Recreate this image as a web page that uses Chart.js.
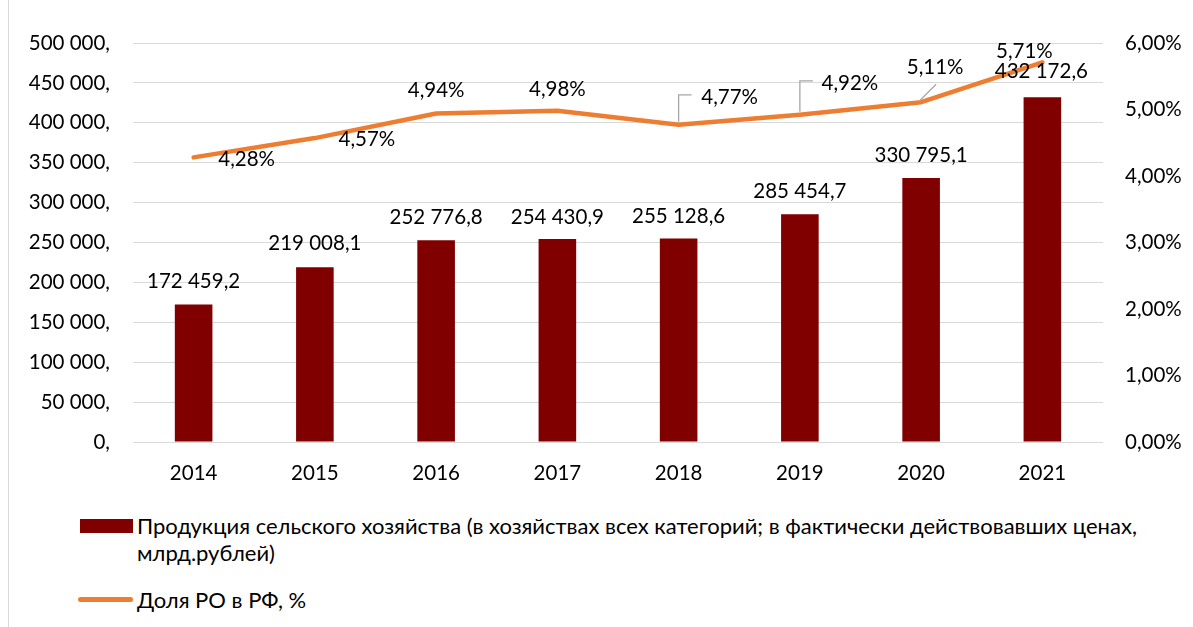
<!DOCTYPE html>
<html>
<head>
<meta charset="utf-8">
<script src="https://cdn.jsdelivr.net/npm/chart.js@4.4.0/dist/chart.umd.min.js"></script>
<style>
    body { margin: 0; background: #fff; width: 1193px; height: 627px; overflow: hidden; position: relative; font-family: Lato, 'Open Sans', sans-serif; }
    #frame { position: absolute; left: 8px; top: 0; width: 1px; height: 627px; background: #d9d9d9; }
    #wrap { position: absolute; left: 0; top: 0; width: 1193px; height: 500px; }
    .lg { position: absolute; font-size: 22px; color: #000; line-height: 27px; }
    .sw-bar { position: absolute; left: 80px; top: 519px; width: 53px; height: 14px; background: #800000; }
    .sw-line { position: absolute; left: 78px; top: 597px; width: 55px; height: 5px; border-radius: 3px; background: #ED7D31; }
</style>
</head>
<body>
<div id="frame"></div>
<div id="wrap"><canvas id="combo"></canvas></div>
<div class="sw-bar"></div>
<div class="lg" id="lgBar" style="left:137px; top:512px; width:1040px;"></div>
<div class="sw-line"></div>
<div class="lg" id="lgLine" style="left:137px; top:586px;"></div>
<script>
// Data
const years = ['2014', '2015', '2016', '2017', '2018', '2019', '2020', '2021'];
const production = [172459.2, 219008.1, 252776.8, 254430.9, 255128.6, 285454.7, 330795.1, 432172.6];
const share = [4.28, 4.57, 4.94, 4.98, 4.77, 4.92, 5.11, 5.71];
const leftTicks = [0, 50000, 100000, 150000, 200000, 250000, 300000, 350000, 400000, 450000, 500000];
const rightTicks = [0, 1, 2, 3, 4, 5, 6];

const barName = 'Продукция сельского хозяйства (в хозяйствах всех категорий; в фактически действовавших ценах, млрд.рублей)';
const lineName = 'Доля РО в РФ, %';

// label placement (px offsets of label centre from the mark)
const barLabelShift = [[0, -23], [0, -24], [0, -23], [0, -22], [0, -22], [0, -23], [0, -23], [-1, -26]];
const shareLabelShift = [[53, 2], [52, 1], [0, -23], [0, -21], [51, -27], [50, -31], [14, -35], [-18, -11]];
const leaders = [null, null, null, null, 'elbow', 'elbow', 'diag', null];

const FONT = 'Lato, "Open Sans", sans-serif';
Chart.defaults.font.family = FONT;
Chart.defaults.font.size = 20.5;
Chart.defaults.color = '#000';

document.getElementById('lgBar').textContent = barName;
document.getElementById('lgLine').textContent = lineName;

const spaced = n => n.toString().replace(/\B(?=(\d{3})+(?!\d))/g, ' ');
const fmtVolume = v => {
    const [i, d] = v.toFixed(1).split('.');
    return spaced(i) + ',' + d;
};
const fmtShare = v => v.toFixed(2).replace('.', ',') + '%';

const valueLabels = {
    id: 'valueLabels',
    afterDatasetsDraw(chart) {
        const ctx = chart.ctx;
        ctx.save();
        ctx.font = '20.5px ' + FONT;
        ctx.fillStyle = '#000';
        ctx.textAlign = 'center';
        ctx.textBaseline = 'middle';

        chart.getDatasetMeta(0).data.forEach((b, i) => {
            ctx.fillText(fmtVolume(production[i]), b.x + barLabelShift[i][0], b.y + barLabelShift[i][1]);
        });

        ctx.strokeStyle = '#a6a6a6';
        ctx.lineWidth = 1.3;
        chart.getDatasetMeta(1).data.forEach((p, i) => {
            const cx = p.x + shareLabelShift[i][0];
            const cy = p.y + shareLabelShift[i][1];
            if (leaders[i] === 'elbow') {
                ctx.beginPath();
                ctx.moveTo(p.x, p.y - 3);
                ctx.lineTo(p.x, cy - 3);
                ctx.lineTo(p.x + 13, cy - 3);
                ctx.stroke();
            } else if (leaders[i] === 'diag') {
                ctx.beginPath();
                ctx.moveTo(p.x - 1, p.y - 2);
                ctx.lineTo(p.x + 15, p.y - 18);
                ctx.stroke();
            }
            ctx.fillText(fmtShare(share[i]), cx, cy);
        });
        ctx.restore();
    }
};

new Chart(document.getElementById('combo'), {
    type: 'bar',
    data: {
        labels: years,
        datasets: [{
            type: 'bar',
            label: barName,
            data: production,
            backgroundColor: '#800000',
            barPercentage: 0.31,
            categoryPercentage: 1,
            yAxisID: 'y',
            order: 1
        }, {
            type: 'line',
            label: lineName,
            data: share,
            borderColor: '#ED7D31',
            borderWidth: 4.5,
            borderCapStyle: 'round',
            borderJoinStyle: 'round',
            pointRadius: 0,
            tension: 0,
            yAxisID: 'y1',
            order: 0
        }]
    },
    options: {
        responsive: true,
        maintainAspectRatio: false,
        animation: false,
        layout: { padding: { top: 43, left: 0, right: 0, bottom: 0 } },
        plugins: {
            legend: { display: false },
            tooltip: { enabled: false }
        },
        scales: {
            x: {
                grid: { display: false },
                border: { display: false },
                ticks: { padding: 11 },
                afterFit: s => { s.height = 58; }
            },
            y: {
                position: 'left',
                min: 0,
                max: 500000,
                afterBuildTicks: s => { s.ticks = leftTicks.map(v => ({ value: v })); },
                ticks: { padding: 23, callback: v => spaced(v) + ',' },
                grid: { color: '#d9d9d9', lineWidth: 1, drawTicks: false },
                border: { display: false },
                afterFit: s => { s.width = 133; }
            },
            y1: {
                position: 'right',
                min: 0,
                max: 6,
                afterBuildTicks: s => { s.ticks = rightTicks.map(v => ({ value: v })); },
                ticks: { padding: 22, callback: v => fmtShare(v) },
                grid: { drawOnChartArea: false, drawTicks: false },
                border: { display: false },
                afterFit: s => { s.width = 90; }
            }
        }
    },
    plugins: [valueLabels]
});
</script>
</body>
</html>
